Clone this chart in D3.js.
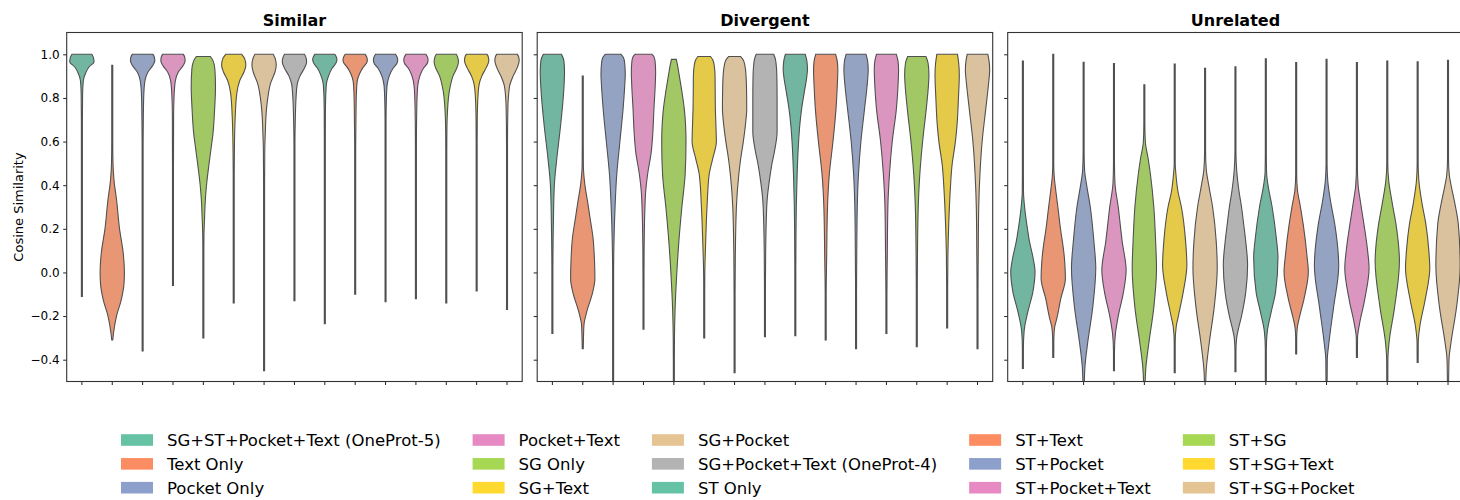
<!DOCTYPE html>
<meta charset="utf-8">
<script src="https://cdn.jsdelivr.net/npm/d3@7"></script>
<style>
body { margin: 0; background: #fff; }
text { font-family: "DejaVu Sans", sans-serif; fill: #000; }
</style>
<body>
<script>

var categories = [
  "SG+ST+Pocket+Text (OneProt-5)", "Text Only", "Pocket Only", "Pocket+Text",
  "SG Only", "SG+Text", "SG+Pocket", "SG+Pocket+Text (OneProt-4)",
  "ST Only", "ST+Text", "ST+Pocket", "ST+Pocket+Text",
  "ST+SG", "ST+SG+Text", "ST+SG+Pocket"
];

var panelNames = ["Similar", "Divergent", "Unrelated"];

var yTicks = [-0.4, -0.2, 0.0, 0.2, 0.4, 0.6, 0.8, 1.0];

// violin outlines: [cosine similarity, relative width]
var similarShapes = [
  [[-0.11,0.02],[0.3,0.025],[0.7,0.04],[0.82,0.06],[0.88,0.12],[0.913,0.3],[0.943,0.6],[0.965,1.0],[0.985,0.95],[1.0,0.82]],
  [[-0.31,0.03],[-0.28,0.1],[-0.2,0.35],[-0.13,0.72],[-0.05,0.97],[0.0,1.0],[0.09,0.9],[0.2,0.6],[0.33,0.36],[0.42,0.15],[0.5,0.06],[0.6,0.03],[0.95,0.02]],
  [[-0.36,0.02],[0.3,0.025],[0.6,0.03],[0.72,0.06],[0.82,0.1],[0.88,0.2],[0.92,0.45],[0.95,0.85],[0.97,1.0],[0.99,0.95],[1.0,0.85]],
  [[-0.06,0.02],[0.5,0.03],[0.72,0.05],[0.82,0.1],[0.88,0.2],[0.92,0.45],[0.95,0.85],[0.97,1.0],[0.99,0.95],[1.0,0.85]],
  [[-0.3,0.02],[0.1,0.025],[0.17,0.05],[0.25,0.1],[0.33,0.16],[0.4,0.26],[0.49,0.45],[0.57,0.64],[0.64,0.8],[0.75,0.93],[0.85,1.0],[0.93,0.95],[0.97,0.8],[0.99,0.58]],
  [[-0.14,0.02],[0.3,0.025],[0.46,0.03],[0.58,0.06],[0.71,0.12],[0.82,0.25],[0.88,0.5],[0.92,0.85],[0.95,1.0],[0.98,0.9],[1.0,0.66]],
  [[-0.45,0.02],[0.3,0.025],[0.42,0.03],[0.57,0.06],[0.64,0.1],[0.72,0.16],[0.79,0.28],[0.87,0.55],[0.92,0.9],[0.95,1.0],[0.98,0.92],[1.0,0.75]],
  [[-0.13,0.02],[0.3,0.025],[0.6,0.04],[0.7,0.07],[0.8,0.13],[0.86,0.22],[0.9,0.45],[0.94,0.85],[0.965,1.0],[0.985,0.95],[1.0,0.82]],
  [[-0.235,0.02],[0.3,0.025],[0.6,0.035],[0.75,0.05],[0.86,0.12],[0.9,0.3],[0.936,0.6],[0.96,0.92],[0.975,1.0],[0.99,0.93],[1.0,0.82]],
  [[-0.1,0.02],[0.3,0.025],[0.55,0.035],[0.74,0.07],[0.82,0.1],[0.875,0.16],[0.91,0.35],[0.94,0.65],[0.965,0.98],[0.975,1.0],[0.99,0.93],[1.0,0.82]],
  [[-0.134,0.02],[0.4,0.025],[0.7,0.04],[0.8,0.07],[0.86,0.13],[0.9,0.3],[0.936,0.62],[0.96,0.95],[0.975,1.0],[0.99,0.93],[1.0,0.82]],
  [[-0.12,0.02],[0.4,0.025],[0.6,0.035],[0.75,0.07],[0.85,0.14],[0.9,0.32],[0.936,0.62],[0.96,0.95],[0.975,1.0],[0.99,0.93],[1.0,0.82]],
  [[-0.14,0.02],[0.3,0.025],[0.55,0.035],[0.645,0.05],[0.74,0.1],[0.83,0.25],[0.9,0.55],[0.945,0.92],[0.965,1.0],[0.985,0.95],[1.0,0.82]],
  [[-0.085,0.02],[0.4,0.025],[0.6,0.035],[0.7,0.05],[0.8,0.1],[0.86,0.2],[0.9,0.42],[0.94,0.8],[0.97,1.0],[0.99,0.95],[1.0,0.85]],
  [[-0.17,0.02],[0.3,0.025],[0.6,0.035],[0.75,0.07],[0.85,0.2],[0.9,0.5],[0.94,0.85],[0.97,1.0],[0.99,0.95],[1.0,0.85]]
];

var divergentShapes = [
  [[-0.28,0.02],[0.0,0.035],[0.22,0.08],[0.4,0.16],[0.52,0.36],[0.676,0.68],[0.83,0.93],[0.92,1.0],[0.97,0.95],[1.0,0.75]],
  [[-0.35,0.03],[-0.3,0.06],[-0.24,0.1],[-0.18,0.33],[-0.09,0.82],[-0.03,1.0],[0.05,0.97],[0.157,0.85],[0.25,0.6],[0.32,0.41],[0.4,0.18],[0.49,0.05],[0.6,0.025],[0.9,0.02]],
  [[-0.55,0.02],[-0.2,0.025],[0.0,0.035],[0.14,0.07],[0.3,0.16],[0.45,0.3],[0.6,0.56],[0.75,0.82],[0.85,0.95],[0.91,1.0],[0.96,0.95],[0.985,0.85],[1.0,0.65]],
  [[-0.26,0.02],[-0.09,0.03],[0.1,0.05],[0.22,0.08],[0.3,0.12],[0.37,0.18],[0.45,0.34],[0.553,0.64],[0.65,0.78],[0.75,0.86],[0.85,0.96],[0.92,1.0],[0.97,0.95],[0.99,0.85],[1.0,0.7]],
  [[-0.55,0.02],[-0.4,0.03],[-0.3,0.05],[-0.17,0.1],[-0.015,0.23],[0.14,0.41],[0.3,0.66],[0.45,0.93],[0.6,1.0],[0.68,0.96],[0.75,0.86],[0.83,0.66],[0.905,0.44],[0.95,0.3],[0.977,0.2]],
  [[-0.3,0.02],[-0.07,0.03],[0.0,0.05],[0.14,0.12],[0.3,0.23],[0.45,0.41],[0.52,0.69],[0.6,1.0],[0.68,0.96],[0.75,0.92],[0.85,0.9],[0.905,0.89],[0.95,0.82],[0.975,0.7],[0.99,0.52]],
  [[-0.46,0.02],[-0.1,0.03],[0.07,0.06],[0.3,0.15],[0.45,0.35],[0.52,0.5],[0.6,0.72],[0.68,0.9],[0.75,1.0],[0.85,0.98],[0.93,0.9],[0.97,0.75],[0.99,0.48]],
  [[-0.295,0.02],[-0.05,0.035],[0.1,0.06],[0.22,0.1],[0.34,0.19],[0.42,0.36],[0.49,0.55],[0.56,0.8],[0.645,1.0],[0.8,1.0],[0.9,0.98],[0.95,0.93],[0.98,0.85],[1.0,0.72]],
  [[-0.29,0.02],[0.0,0.04],[0.2,0.06],[0.3,0.08],[0.45,0.15],[0.6,0.27],[0.676,0.37],[0.75,0.52],[0.83,0.75],[0.9,0.95],[0.93,1.0],[0.97,0.95],[1.0,0.82]],
  [[-0.31,0.02],[-0.1,0.035],[0.07,0.08],[0.3,0.15],[0.45,0.3],[0.6,0.6],[0.75,0.85],[0.85,0.95],[0.93,1.0],[0.97,0.95],[1.0,0.82]],
  [[-0.35,0.02],[-0.1,0.035],[0.1,0.06],[0.3,0.1],[0.45,0.2],[0.6,0.4],[0.75,0.7],[0.85,0.9],[0.93,1.0],[0.97,0.95],[1.0,0.82]],
  [[-0.28,0.02],[-0.1,0.035],[0.07,0.07],[0.3,0.12],[0.45,0.25],[0.6,0.48],[0.75,0.82],[0.85,0.95],[0.93,1.0],[0.97,0.95],[1.0,0.82]],
  [[-0.34,0.02],[-0.1,0.035],[0.1,0.06],[0.3,0.12],[0.45,0.25],[0.6,0.48],[0.75,0.78],[0.85,0.95],[0.905,1.0],[0.96,0.93],[0.99,0.75]],
  [[-0.255,0.02],[-0.07,0.03],[0.07,0.06],[0.22,0.13],[0.37,0.25],[0.49,0.4],[0.6,0.68],[0.68,0.82],[0.8,0.93],[0.905,1.0],[0.96,0.95],[1.0,0.85]],
  [[-0.35,0.02],[-0.1,0.035],[0.1,0.06],[0.3,0.1],[0.45,0.2],[0.6,0.38],[0.75,0.68],[0.85,0.88],[0.93,1.0],[0.97,0.95],[1.0,0.85]]
];

var unrelatedShapes = [
  [[-0.44,0.02],[-0.35,0.04],[-0.27,0.1],[-0.18,0.41],[-0.09,0.82],[0.003,1.0],[0.064,0.85],[0.14,0.55],[0.217,0.33],[0.295,0.15],[0.37,0.05],[0.45,0.03],[0.6,0.025],[0.969,0.02]],
  [[-0.39,0.02],[-0.3,0.05],[-0.25,0.12],[-0.21,0.3],[-0.12,0.62],[-0.028,1.0],[0.065,0.92],[0.22,0.55],[0.3,0.38],[0.37,0.22],[0.44,0.08],[0.49,0.04],[0.6,0.025],[1.0,0.02]],
  [[-0.55,0.02],[-0.44,0.1],[-0.32,0.34],[-0.16,0.75],[0.02,1.0],[0.14,0.85],[0.3,0.55],[0.4,0.25],[0.47,0.08],[0.55,0.03],[0.7,0.025],[0.963,0.02]],
  [[-0.45,0.02],[-0.36,0.04],[-0.28,0.12],[-0.2,0.35],[-0.09,0.78],[0.01,1.0],[0.14,0.68],[0.3,0.35],[0.41,0.08],[0.5,0.03],[0.7,0.025],[0.958,0.02]],
  [[-0.55,0.02],[-0.44,0.12],[-0.32,0.38],[-0.16,0.78],[0.02,1.0],[0.14,0.93],[0.3,0.78],[0.45,0.5],[0.52,0.32],[0.6,0.08],[0.68,0.03],[0.86,0.02]],
  [[-0.46,0.02],[-0.32,0.04],[-0.25,0.12],[-0.2,0.3],[-0.09,0.7],[0.034,1.0],[0.14,0.9],[0.3,0.55],[0.37,0.27],[0.45,0.1],[0.5,0.04],[0.6,0.025],[0.955,0.02]],
  [[-0.55,0.02],[-0.46,0.08],[-0.32,0.35],[-0.16,0.75],[0.02,1.0],[0.14,0.92],[0.3,0.62],[0.4,0.3],[0.47,0.1],[0.55,0.04],[0.7,0.025],[0.936,0.02]],
  [[-0.455,0.02],[-0.36,0.04],[-0.3,0.1],[-0.27,0.2],[-0.2,0.5],[-0.09,0.85],[0.035,1.0],[0.14,0.85],[0.22,0.68],[0.3,0.5],[0.37,0.3],[0.47,0.1],[0.55,0.04],[0.7,0.025],[0.943,0.02]],
  [[-0.52,0.02],[-0.35,0.04],[-0.27,0.12],[-0.18,0.45],[-0.09,0.8],[0.07,1.0],[0.16,0.86],[0.3,0.52],[0.4,0.18],[0.46,0.06],[0.55,0.03],[0.7,0.025],[0.98,0.02]],
  [[-0.374,0.02],[-0.3,0.04],[-0.25,0.1],[-0.21,0.25],[-0.12,0.65],[0.003,1.0],[0.07,0.9],[0.22,0.58],[0.3,0.35],[0.38,0.1],[0.45,0.04],[0.6,0.025],[0.962,0.02]],
  [[-0.55,0.02],[-0.4,0.06],[-0.32,0.2],[-0.16,0.58],[0.03,1.0],[0.22,0.68],[0.32,0.35],[0.42,0.1],[0.5,0.04],[0.65,0.025],[0.977,0.02]],
  [[-0.39,0.02],[-0.3,0.05],[-0.24,0.2],[-0.13,0.62],[0.02,1.0],[0.1,0.88],[0.22,0.58],[0.32,0.3],[0.4,0.1],[0.48,0.04],[0.6,0.025],[0.962,0.02]],
  [[-0.55,0.02],[-0.4,0.05],[-0.32,0.15],[-0.16,0.6],[0.05,1.0],[0.22,0.72],[0.32,0.4],[0.42,0.12],[0.5,0.04],[0.65,0.025],[0.969,0.02]],
  [[-0.413,0.02],[-0.32,0.05],[-0.24,0.2],[-0.13,0.6],[0.02,1.0],[0.1,0.92],[0.22,0.68],[0.32,0.35],[0.42,0.1],[0.5,0.04],[0.6,0.025],[0.966,0.02]],
  [[-0.55,0.02],[-0.4,0.08],[-0.32,0.25],[-0.16,0.7],[0.03,1.0],[0.22,0.85],[0.32,0.55],[0.4,0.25],[0.45,0.1],[0.52,0.04],[0.65,0.025],[0.972,0.02]]
];

var panelShapes = [similarShapes, divergentShapes, unrelatedShapes];

var width = 1460,
    height = 500;

var marginLeft = 66.7, marginTop = 32.5,
    panelW = 455.5, panelH = 349, gap = 15;

var svg = d3.select("body").append("svg")
    .attr("width", width)
    .attr("height", height);

var y = d3.scaleLinear().domain([-0.5, 1.1]).range([panelH, 0]);
var x = d3.scaleBand().domain(categories).range([0, panelW]);
var halfW = x.bandwidth() * 0.4;

var color = d3.scaleOrdinal().domain(categories).range(d3.schemeSet2);

// seaborn draws the violins a bit desaturated
function desat(c) {
  var h = d3.hsl(c);
  h.s *= 0.75;
  return h.formatHex();
}

// the near-empty tails still show as a thin dark line
function hw(f) {
  return Math.max(f * halfW, 0.5);
}

panelNames.forEach(function(name, k) {
  var g = svg.append("g")
      .attr("transform", "translate(" + (marginLeft + k * (panelW + gap)) + "," + marginTop + ")");

  g.append("clipPath").attr("id", "clip" + k)
    .append("rect").attr("width", panelW).attr("height", panelH);

  var vg = g.append("g").attr("clip-path", "url(#clip" + k + ")");

  panelShapes[k].forEach(function(shape, i) {
    var cx = x(categories[i]) + x.bandwidth() / 2;
    var area = d3.area()
        .y(function(d) { return y(d[0]); })
        .x0(function(d) { return cx - hw(d[1]); })
        .x1(function(d) { return cx + hw(d[1]); })
        .curve(d3.curveMonotoneY);
    vg.append("path")
      .datum(shape)
      .attr("d", area)
      .attr("fill", desat(color(categories[i])))
      .attr("stroke", "#505050")
      .attr("stroke-width", 1.1);
  });

  // y axis (labels only on the first panel)
  var ya = g.append("g")
      .call(d3.axisLeft(y).tickValues(yTicks).tickSize(3.5).tickPadding(3.5)
        .tickFormat(k === 0 ? d3.format(".1f") : ""));
  ya.select(".domain").remove();
  ya.selectAll("line").attr("stroke", "#222");
  ya.selectAll("text").attr("font-size", "12px").attr("font-family", "DejaVu Sans").attr("fill", "#000");

  var xa = g.append("g")
      .attr("transform", "translate(0," + panelH + ")")
      .call(d3.axisBottom(x).tickSize(3.5).tickFormat(""));
  xa.select(".domain").remove();
  xa.selectAll("line").attr("stroke", "#222");

  g.append("rect")
    .attr("width", panelW)
    .attr("height", panelH)
    .attr("fill", "none")
    .attr("stroke", "#333")
    .attr("stroke-width", 1.1);

  g.append("text")
    .attr("x", panelW / 2)
    .attr("y", -7)
    .attr("text-anchor", "middle")
    .style("font-size", "16px")
    .style("font-weight", "bold")
    .text(name);
});

svg.append("text")
  .attr("transform", "translate(18," + (marginTop + panelH / 2) + ") rotate(-90)")
  .attr("text-anchor", "middle")
  .attr("dy", "0.35em")
  .style("font-size", "13px")
  .text("Cosine Similarity");

// legend: 5 columns, 3 rows, filled column by column
var legend = svg.append("g");
var rows = 3, lx = 121;
for (var c = 0; c < Math.ceil(categories.length / rows); c++) {
  var maxW = 0;
  for (var r = 0; r < rows; r++) {
    var idx = c * rows + r;
    if (idx >= categories.length) break;
    var ly = 440 + r * 23.85;
    legend.append("rect")
      .attr("x", lx)
      .attr("y", ly - 5.8)
      .attr("width", 32)
      .attr("height", 11.6)
      .attr("fill", color(categories[idx]));
    var t = legend.append("text")
      .attr("x", lx + 46)
      .attr("y", ly)
      .attr("dy", "0.37em")
      .style("font-size", "16.5px")
      .text(categories[idx]);
    maxW = Math.max(maxW, t.node().getComputedTextLength());
  }
  lx += 46 + maxW + 32;
}

</script>
</body>
